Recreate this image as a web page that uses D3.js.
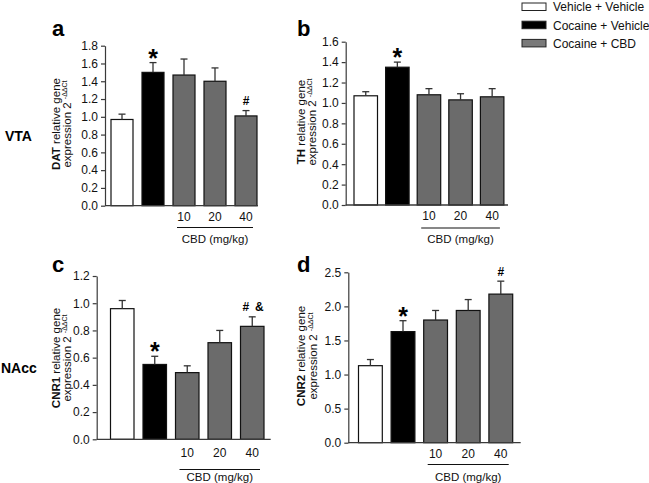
<!DOCTYPE html>
<html>
<head>
<meta charset="utf-8">
<script src="https://cdn.jsdelivr.net/npm/d3@7"></script>
<style>
  html, body { margin: 0; padding: 0; background: #fff; }
  svg { display: block; font-family: "Liberation Sans", Arial, sans-serif; }
</style>
</head>
<body>
<svg id="chart" width="649" height="483"></svg>
<script>
// ---------------- DATA ----------------
const groups = ["Vehicle + Vehicle", "Cocaine + Vehicle", "Cocaine + CBD 10", "Cocaine + CBD 20", "Cocaine + CBD 40"];
const groupType = ["veh", "coc", "cbd", "cbd", "cbd"];
const doseLabels = ["10", "20", "40"];
const legendLabels = ["Vehicle + Vehicle", "Cocaine + Vehicle", "Cocaine + CBD"];
const regionLabels = ["VTA", "NAcc"];

const datMean = [0.97, 1.50, 1.47, 1.40, 1.01];
const datSem  = [0.06, 0.11, 0.18, 0.15, 0.06];
const datMarks = ["", "*", "", "", "#"];
const datTicks = [0.0, 0.2, 0.4, 0.6, 0.8, 1.0, 1.2, 1.4, 1.6, 1.8];

const thMean = [1.07, 1.35, 1.08, 1.03, 1.06];
const thSem  = [0.04, 0.05, 0.06, 0.06, 0.08];
const thMarks = ["", "*", "", "", ""];
const thTicks = [0.0, 0.2, 0.4, 0.6, 0.8, 1.0, 1.2, 1.4, 1.6];

const cnr1Mean = [0.96, 0.55, 0.49, 0.71, 0.83];
const cnr1Sem  = [0.06, 0.06, 0.05, 0.09, 0.07];
const cnr1Marks = ["", "*", "", "", "# &"];
const cnr1Ticks = [0.0, 0.2, 0.4, 0.6, 0.8, 1.0, 1.2];

const cnr2Mean = [1.13, 1.63, 1.80, 1.94, 2.18];
const cnr2Sem  = [0.09, 0.16, 0.14, 0.16, 0.19];
const cnr2Marks = ["", "*", "", "", "#"];
const cnr2Ticks = [0.0, 0.5, 1.0, 1.5, 2.0, 2.5];

// ---------------- STYLE / LAYOUT ----------------
const fills = { veh: "#ffffff", coc: "#000000", cbd: "#6b6b6b" };
const legendFills = { veh: "#ffffff", coc: "#000000", cbd: "#7a7a7a" };
const axisColor = "#3a3a3a";
const textColor = "#111";

const panels = [
  { letter: "a", gene: "DAT", mean: datMean, sem: datSem, marks: datMarks, ticks: datTicks,
    axisX: 105, axisEnd: 258, y0: 205.7, yTop: 45.7, barStart: 111, step: 31, barW: 22,
    letterX: 52, letterY: 36, lab1: 59.5, lab2: 71, labCY: 124, numY: 221, lineY: 227.5, cbdY: 243 },
  { letter: "b", gene: "TH", mean: thMean, sem: thSem, marks: thMarks, ticks: thTicks,
    axisX: 345.7, axisEnd: 508, y0: 205, yTop: 41.7, barStart: 354, step: 31.6, barW: 23.5,
    letterX: 297, letterY: 36, lab1: 304.5, lab2: 316, labCY: 122, numY: 220, lineY: 228, cbdY: 243 },
  { letter: "c", gene: "CNR1", mean: cnr1Mean, sem: cnr1Sem, marks: cnr1Marks, ticks: cnr1Ticks,
    axisX: 96.7, axisEnd: 270.7, y0: 439.3, yTop: 276, barStart: 110.5, step: 32.5, barW: 23.5,
    letterX: 52, letterY: 272, lab1: 59.5, lab2: 71, labCY: 358, numY: 457, lineY: 469.5, cbdY: 481 },
  { letter: "d", gene: "CNR2", mean: cnr2Mean, sem: cnr2Sem, marks: cnr2Marks, ticks: cnr2Ticks,
    axisX: 348.3, axisEnd: 520.7, y0: 442.7, yTop: 272.3, barStart: 358.5, step: 32.6, barW: 23.8,
    letterX: 297, letterY: 272, lab1: 305, lab2: 317, labCY: 356, numY: 458, lineY: 464.5, cbdY: 481 }
];

const svg = d3.select("#chart");

panels.forEach(p => {
  const g = svg.append("g");
  const yMax = p.ticks[p.ticks.length - 1];
  const y = d3.scaleLinear().domain([0, yMax]).range([p.y0, p.yTop]);
  const pi = 1 - p.barW / p.step;
  const r0 = p.barStart - p.step * pi / 2;
  const x = d3.scaleBand().domain(groups)
    .range([r0, r0 + p.step * groups.length])
    .paddingInner(pi).paddingOuter(pi / 2);

  // bars
  g.selectAll("rect.bar").data(groups).join("rect")
    .attr("x", d => x(d))
    .attr("width", x.bandwidth())
    .attr("y", (d, i) => y(p.mean[i]))
    .attr("height", (d, i) => p.y0 - y(p.mean[i]))
    .attr("fill", (d, i) => fills[groupType[i]])
    .attr("stroke", "#111")
    .attr("stroke-width", 1.2);

  // error bars (upper only)
  const cap = 3.5;
  groups.forEach((d, i) => {
    const cx = x(d) + x.bandwidth() / 2;
    const yt = y(p.mean[i] + p.sem[i]);
    g.append("line").attr("x1", cx).attr("x2", cx)
      .attr("y1", y(p.mean[i])).attr("y2", yt)
      .attr("stroke", "#333").attr("stroke-width", 1.3);
    g.append("line").attr("x1", cx - cap).attr("x2", cx + cap)
      .attr("y1", yt).attr("y2", yt)
      .attr("stroke", "#333").attr("stroke-width", 1.3);
    const m = p.marks[i];
    if (m === "*") {
      g.append("text").attr("x", cx).attr("y", yt + 4)
        .attr("text-anchor", "middle").attr("font-size", 25).attr("font-weight", "bold")
        .attr("fill", "#000").text("*");
    } else if (m) {
      const parts = m.split(" ");
      const offs = parts.length === 1 ? [0] : [-6.5, 7];
      parts.forEach((t, k) => {
        g.append("text").attr("x", cx + offs[k]).attr("y", yt - 5.5)
          .attr("text-anchor", "middle").attr("font-size", 12).attr("font-weight", "bold")
          .attr("fill", "#000").text(t);
      });
    }
  });

  // y axis
  const ax = g.append("g").attr("transform", `translate(${p.axisX},0)`)
    .call(d3.axisLeft(y).tickValues(p.ticks).tickFormat(d3.format(".1f")).tickSize(4).tickSizeOuter(0).tickPadding(3));
  ax.select(".domain").attr("stroke", axisColor).attr("stroke-width", 1.2);
  ax.selectAll(".tick line").attr("stroke", axisColor).attr("stroke-width", 1.2);
  ax.selectAll(".tick text").attr("font-size", 12).attr("fill", textColor)
    .attr("font-family", "Liberation Sans, Arial, sans-serif");

  // x baseline
  g.append("line").attr("x1", p.axisX).attr("x2", p.axisEnd)
    .attr("y1", p.y0).attr("y2", p.y0)
    .attr("stroke", axisColor).attr("stroke-width", 1.3);

  // dose labels
  const cbdGroups = groups.slice(2);
  cbdGroups.forEach((d, k) => {
    g.append("text").attr("x", x(d) + x.bandwidth() / 2).attr("y", p.numY)
      .attr("text-anchor", "middle").attr("font-size", 12).attr("fill", textColor)
      .text(doseLabels[k]);
  });
  const lx1 = x(cbdGroups[0]) + 4;
  const lx2 = x(cbdGroups[2]) + x.bandwidth() - 4;
  g.append("line").attr("x1", lx1).attr("x2", lx2).attr("y1", p.lineY).attr("y2", p.lineY)
    .attr("stroke", "#111").attr("stroke-width", 1.2);
  g.append("text").attr("x", (lx1 + lx2) / 2).attr("y", p.cbdY)
    .attr("text-anchor", "middle").attr("font-size", 11.5).attr("fill", textColor)
    .text("CBD (mg/kg)");

  // panel letter
  g.append("text").attr("x", p.letterX).attr("y", p.letterY)
    .attr("font-size", 22).attr("font-weight", "bold").attr("fill", "#000").text(p.letter);

  // y axis title (two lines, rotated)
  const t1 = g.append("text").attr("transform", `translate(${p.lab1},${p.labCY}) rotate(-90)`)
    .attr("text-anchor", "middle").attr("font-size", 11.5).attr("fill", textColor);
  t1.append("tspan").attr("font-weight", "bold").text(p.gene);
  t1.append("tspan").text(" relative gene");
  const t2 = g.append("text").attr("transform", `translate(${p.lab2},${p.labCY}) rotate(-90)`)
    .attr("text-anchor", "middle").attr("font-size", 11.5).attr("fill", textColor);
  t2.append("tspan").text("expression 2 ");
  t2.append("tspan").attr("font-size", 7).attr("dy", -4).text("-ΔΔCt");
});

// region labels
svg.append("text").attr("x", 5).attr("y", 141).attr("font-size", 14).attr("font-weight", "bold")
  .attr("fill", "#000").text(regionLabels[0]);
svg.append("text").attr("x", 1).attr("y", 373).attr("font-size", 14).attr("font-weight", "bold")
  .attr("fill", "#000").text(regionLabels[1]);

// legend
const lg = svg.append("g");
legendLabels.forEach((t, i) => {
  const type = ["veh", "coc", "cbd"][i];
  lg.append("rect").attr("x", 522).attr("y", 3 + i * 18.2).attr("width", 24).attr("height", 7.5)
    .attr("fill", legendFills[type]).attr("stroke", "#222").attr("stroke-width", 1);
  lg.append("text").attr("x", 553).attr("y", 11.3 + i * 18.2).attr("font-size", 12)
    .attr("fill", textColor).text(t);
});
</script>
</body>
</html>
